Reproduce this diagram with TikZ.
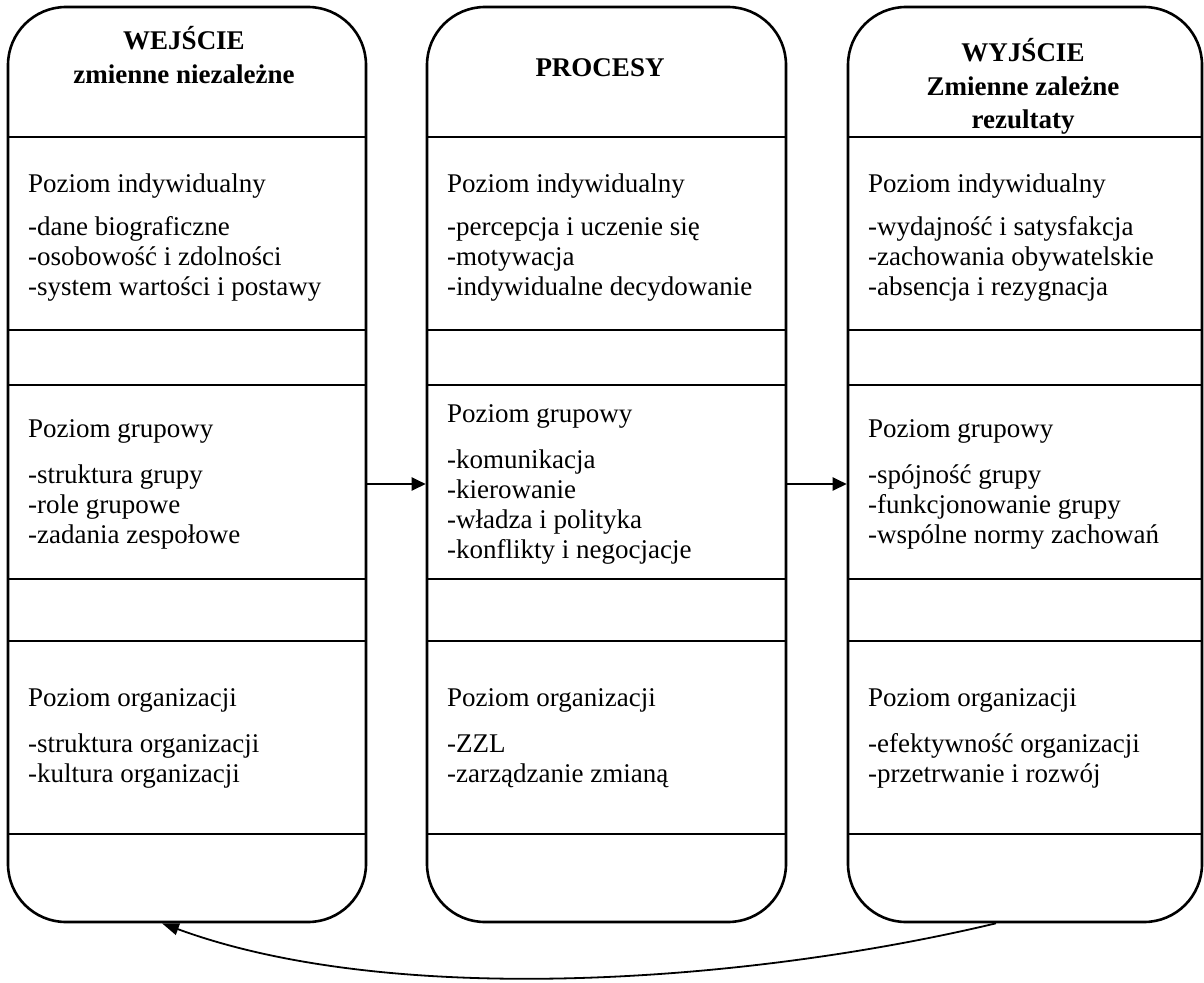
\documentclass[tikz,border=0pt]{standalone}
\usepackage{fontspec}
\setmainfont{Liberation Serif}
\usetikzlibrary{arrows.meta}
\begin{document}
\begin{tikzpicture}[x=1pt,y=-1pt,
  col/.style={inner sep=0pt, outer sep=1.3pt, minimum height=915pt},
  colline/.style={line width=2.6pt},
  divline/.style={line width=2.4pt},
  txt/.style={anchor=base west, inner sep=0pt, font=\fontsize{27}{30}\selectfont},
  hd/.style={anchor=base, inner sep=0pt, font=\fontsize{27}{30}\selectfont\bfseries},
  arr/.style={line width=2.4pt, -{Triangle[length=14pt,width=13pt]}},
  fb/.style={line width=1.8pt, -{Triangle[length=17pt,width=12pt]}}]
\useasboundingbox (0,0) rectangle (1204,982);

% columns (named nodes for anchors)
\node[col, minimum width=358pt] (inp) at (187,464.5) {};
\node[col, minimum width=359pt] (proc) at (606.5,464.5) {};
\node[col, minimum width=354pt] (out) at (1025,464.5) {};

% column outlines with round corners
\draw[colline] (8,65) arc[start angle=180, end angle=90, radius=58pt] -- (308,7)
  arc[start angle=90, end angle=0, radius=58pt] -- (366,864)
  arc[start angle=0, end angle=-90, radius=58pt] -- (66,922)
  arc[start angle=270, end angle=180, radius=58pt] -- cycle;
\draw[colline] (427,65) arc[start angle=180, end angle=90, radius=58pt] -- (728,7)
  arc[start angle=90, end angle=0, radius=58pt] -- (786,864)
  arc[start angle=0, end angle=-90, radius=58pt] -- (485,922)
  arc[start angle=270, end angle=180, radius=58pt] -- cycle;
\draw[colline] (848,65) arc[start angle=180, end angle=90, radius=58pt] -- (1144,7)
  arc[start angle=90, end angle=0, radius=58pt] -- (1202,864)
  arc[start angle=0, end angle=-90, radius=58pt] -- (906,922)
  arc[start angle=270, end angle=180, radius=58pt] -- cycle;

% dividers
\foreach \y in {137,330,385,579,641,834} {
  \draw[divline] (8,\y) -- (366,\y);
  \draw[divline] (427,\y) -- (786,\y);
  \draw[divline] (848,\y) -- (1202,\y);
}

% headers
\node[hd] (hA1) at (184,50) {WEJŚCIE};
\node[hd] (hA2) at (184,83) {zmienne niezależne};
\node[hd] (hB1) at (600,76) {PROCESY};
\node[hd] (hC1) at (1023,62) {WYJŚCIE};
\node[hd] (hC2) at (1023,95) {Zmienne zależne};
\node[hd] (hC3) at (1023,128) {rezultaty};

% left column
\node[txt] (A1h) at (28,192) {Poziom indywidualny};
\foreach \t [count=\i] in {-dane biograficzne,-osobowość i zdolności,-system wartości i postawy}
  \node[txt] (A1-\i) at (28,{235+30*(\i-1)}) {\t};
\node[txt] (A2h) at (28,437) {Poziom grupowy};
\foreach \t [count=\i] in {-struktura grupy,-role grupowe,-zadania zespołowe}
  \node[txt] (A2-\i) at (28,{483+30*(\i-1)}) {\t};
\node[txt] (A3h) at (28,706) {Poziom organizacji};
\foreach \t [count=\i] in {-struktura organizacji,-kultura organizacji}
  \node[txt] (A3-\i) at (28,{752+30*(\i-1)}) {\t};

% middle column
\node[txt] (B1h) at (447,192) {Poziom indywidualny};
\foreach \t [count=\i] in {-percepcja i uczenie się,-motywacja,-indywidualne decydowanie}
  \node[txt] (B1-\i) at (447,{235+30*(\i-1)}) {\t};
\node[txt] (B2h) at (447,422) {Poziom grupowy};
\foreach \t [count=\i] in {-komunikacja,-kierowanie,-władza i polityka,-konflikty i negocjacje}
  \node[txt] (B2-\i) at (447,{468+30*(\i-1)}) {\t};
\node[txt] (B3h) at (447,706) {Poziom organizacji};
\foreach \t [count=\i] in {-ZZL,-zarządzanie zmianą}
  \node[txt] (B3-\i) at (447,{752+30*(\i-1)}) {\t};

% right column
\node[txt] (C1h) at (868,192) {Poziom indywidualny};
\foreach \t [count=\i] in {-wydajność i satysfakcja,-zachowania obywatelskie,-absencja i rezygnacja}
  \node[txt] (C1-\i) at (868,{235+30*(\i-1)}) {\t};
\node[txt] (C2h) at (868,437) {Poziom grupowy};
\foreach \t [count=\i] in {-spójność grupy,-funkcjonowanie grupy,-wspólne normy zachowań}
  \node[txt] (C2-\i) at (868,{483+30*(\i-1)}) {\t};
\node[txt] (C3h) at (868,706) {Poziom organizacji};
\foreach \t [count=\i] in {-efektywność organizacji,-przetrwanie i rozwój}
  \node[txt] (C3-\i) at (868,{752+30*(\i-1)}) {\t};

% connectors
\coordinate (ya) at (0,484);
\draw[arr] (inp.east |- ya) -- (proc.west |- ya);
\draw[arr] (proc.east |- ya) -- (out.west |- ya);
\draw[fb] ([xshift=-29pt]out.south) .. controls (746,983) and (392,1008) .. ([xshift=-25pt]inp.south);
\end{tikzpicture}
\end{document}
